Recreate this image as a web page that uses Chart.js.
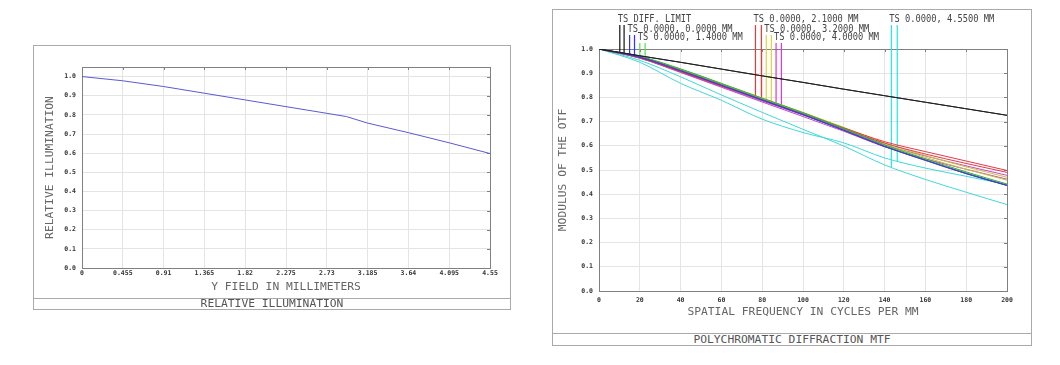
<!DOCTYPE html>
<html>
<head>
<meta charset="utf-8">
<script src="https://cdn.jsdelivr.net/npm/chart.js@4.4.1/dist/chart.umd.min.js"></script>
<style>
  body { margin: 0; background: #fff; width: 1060px; height: 365px; position: relative; overflow: hidden; font-family: 'DejaVu Sans Mono', monospace; }
  .frame { position: absolute; border: 1px solid #aaa; box-sizing: border-box; }
  .plot { position: absolute; left: 0; top: 0; right: 0; }
  .foot { position: absolute; left: 0; right: 0; bottom: 0; border-top: 1px solid #aaa; text-align: center; font-size: 11.3px; color: #555; }
</style>
</head>
<body>
<div class="frame" style="left:33px; top:45px; width:478px; height:265px;">
  <div class="plot" style="height:252px;"><canvas id="illum"></canvas></div>
  <div class="foot" style="height:10px; line-height:10px;">RELATIVE ILLUMINATION</div>
</div>
<div class="frame" style="left:552px; top:9px; width:480px; height:337px;">
  <div class="plot" style="height:322px;"><canvas id="mtf"></canvas></div>
  <div class="foot" style="height:11px; line-height:11px;">POLYCHROMATIC DIFFRACTION MTF</div>
</div>
<script>
// relative illumination vs field
const fieldMm = [0, 0.455, 0.91, 1.365, 1.82, 2.275, 2.73, 2.95, 3.185, 3.64, 4.095, 4.55];
const relIllum = [1.000, 0.978, 0.948, 0.913, 0.878, 0.843, 0.808, 0.791, 0.757, 0.707, 0.654, 0.598];
const fieldTicks = ['0', '0.455', '0.91', '1.365', '1.82', '2.275', '2.73', '3.185', '3.64', '4.095', '4.55'];

// polychromatic MTF, tangential / sagittal
const freq = [0, 20, 40, 60, 80, 100, 120, 140, 160, 180, 200];
const mtfDiff = [1.000, 0.972, 0.945, 0.917, 0.889, 0.862, 0.834, 0.807, 0.780, 0.753, 0.726];
const mtf00 = [1.000, 0.966, 0.910, 0.850, 0.789, 0.729, 0.664, 0.597, 0.540, 0.485, 0.436];
const mtf14T = [1.000, 0.970, 0.918, 0.858, 0.797, 0.737, 0.672, 0.604, 0.546, 0.492, 0.442];
const mtf14S = [1.000, 0.968, 0.914, 0.854, 0.793, 0.733, 0.668, 0.600, 0.542, 0.488, 0.438];
const mtf21T = [1.000, 0.963, 0.906, 0.847, 0.790, 0.733, 0.674, 0.617, 0.576, 0.537, 0.498];
const mtf21S = [1.000, 0.964, 0.908, 0.849, 0.789, 0.730, 0.670, 0.611, 0.566, 0.527, 0.490];
const mtf32T = [1.000, 0.969, 0.916, 0.857, 0.797, 0.738, 0.676, 0.612, 0.560, 0.513, 0.470];
const mtf32S = [1.000, 0.967, 0.912, 0.853, 0.793, 0.734, 0.672, 0.607, 0.552, 0.503, 0.458];
const mtf40T = [1.000, 0.963, 0.905, 0.845, 0.785, 0.727, 0.666, 0.604, 0.558, 0.517, 0.478];
const mtf40S = [1.000, 0.962, 0.903, 0.842, 0.781, 0.721, 0.660, 0.596, 0.546, 0.503, 0.462];
const mtf455T = [1.000, 0.953, 0.885, 0.810, 0.738, 0.668, 0.599, 0.521, 0.461, 0.408, 0.357];
const mtf455S = [1.000, 0.945, 0.858, 0.788, 0.710, 0.655, 0.612, 0.550, 0.508, 0.474, 0.440];

const seriesNames = ['TS DIFF. LIMIT', 'TS 0.0000, 0.0000 MM', 'TS 0.0000, 1.4000 MM', 'TS 0.0000, 2.1000 MM',
  'TS 0.0000, 3.2000 MM', 'TS 0.0000, 4.0000 MM', 'TS 0.0000, 4.5500 MM'];
const seriesT = [mtfDiff, mtf00, mtf14T, mtf21T, mtf32T, mtf40T, mtf455T];
const seriesS = [mtfDiff, mtf00, mtf14S, mtf21S, mtf32S, mtf40S, mtf455S];
const lineColors = ['#222222', '#3c3cd8', '#44aa33', '#e23a4a', '#c8c040', '#c844c8', '#40d8d8'];
const markColors = ['#111111', '#3030ff', '#55dd55', '#ff3030', '#d8d840', '#e030e0', '#20e8e8'];

// little T/S flags that tie each legend entry to its curves
const markerFreq = [[10.2, 12.3], [15.0, 17.4], [20.0, 22.6], [76.7, 79.6], [82.0, 84.5], [86.8, 89.4], [143.3, 146.2]];
const markerMtf = [[0.986, 0.983], [0.975, 0.970], [0.970, 0.961], [0.799, 0.790], [0.791, 0.780], [0.765, 0.753], [0.511, 0.537]];
const markerTop = [1.099, 1.058, 1.025, 1.099, 1.058, 1.025, 1.099];

Chart.defaults.font.family = "'DejaVu Sans Mono', monospace";
Chart.defaults.animation = false;

const tickFont = { size: 6.5, weight: 'bold' };
const titleFont = { size: 11.3 };

// plot box plus the short inward ticks on top and right edges
const boxPlugin = {
  id: 'box',
  beforeDatasetsDraw(chart) {
    const { ctx, chartArea: a, scales } = chart;
    ctx.save();
    ctx.strokeStyle = '#808080';
    ctx.lineWidth = 1;
    ctx.strokeRect(a.left + 0.5, a.top + 0.5, a.right - a.left, a.bottom - a.top);
    ctx.beginPath();
    scales.x.ticks.forEach((t, i) => {
      const px = Math.round(scales.x.getPixelForTick(i)) + 0.5;
      ctx.moveTo(px, a.top); ctx.lineTo(px, a.top + 3);
    });
    scales.y.ticks.forEach((t, i) => {
      const py = Math.round(scales.y.getPixelForTick(i)) + 0.5;
      ctx.moveTo(a.right, py); ctx.lineTo(a.right - 3, py);
    });
    ctx.stroke();
    ctx.restore();
  }
};

function axes(xOpts, yOpts, yWidth, xHeight, yTitle, xTitle, yPad, xPad, xTickPad) {
  return {
    x: Object.assign({
      type: 'linear',
      border: { display: false },
      grid: { color: '#e4e4e4', drawTicks: false },
      ticks: { font: tickFont, color: '#333', padding: xTickPad, maxRotation: 0, autoSkip: false },
      title: { display: true, text: xTitle, font: titleFont, color: '#666', padding: { top: 0, bottom: xPad } },
      afterFit: s => { s.height = xHeight; }
    }, xOpts),
    y: Object.assign({
      border: { display: false },
      grid: { color: '#e4e4e4', drawTicks: false },
      ticks: { font: tickFont, color: '#333', padding: 6, stepSize: 0.1, includeBounds: false,
        callback: v => v.toFixed(1) },
      title: { display: true, text: yTitle, font: titleFont, color: '#666', padding: { top: yPad, bottom: 0 } },
      afterFit: s => { s.width = yWidth; }
    }, yOpts)
  };
}

function pts(xs, ys) {
  return xs.map((x, i) => ({ x: x, y: ys[i] }));
}

// left: relative illumination
const illumScales = axes({ min: 0, max: 4.55 }, { min: 0, max: 1.05 }, 48, 30,
  'RELATIVE ILLUMINATION', 'Y FIELD IN MILLIMETERS', 9, 4, 1.5);
illumScales.x.ticks.stepSize = 0.455;
illumScales.x.ticks.callback = (v, i) => fieldTicks[i];

new Chart(document.getElementById('illum'), {
  type: 'line',
  data: {
    datasets: [{
      data: pts(fieldMm, relIllum),
      borderColor: '#5a5ad2',
      borderWidth: 1,
      pointRadius: 0,
      tension: 0
    }]
  },
  options: {
    responsive: true,
    maintainAspectRatio: false,
    layout: { padding: { top: 21, right: 20, left: 0, bottom: 0 } },
    plugins: { legend: { display: false }, tooltip: { enabled: false } },
    scales: illumScales
  },
  plugins: [boxPlugin]
});

// right: MTF
const mtfScales = axes({ min: 0, max: 200 }, { min: 0, max: 1.0 }, 46, 41,
  'MODULUS OF THE OTF', 'SPATIAL FREQUENCY IN CYCLES PER MM', 3.2, 13, 5);
mtfScales.x.ticks.stepSize = 20;

const mtfSets = [];
seriesNames.forEach((name, i) => {
  [seriesT[i], seriesS[i]].forEach(vals => {
    mtfSets.push({
      data: pts(freq, vals),
      borderColor: lineColors[i],
      borderWidth: 1,
      pointRadius: 0,
      cubicInterpolationMode: 'monotone'
    });
  });
});
seriesNames.forEach((name, i) => {
  markerFreq[i].forEach((f, k) => {
    mtfSets.push({
      data: [{ x: f, y: markerMtf[i][k] }, { x: f, y: markerTop[i] }],
      borderColor: markColors[i],
      borderWidth: 1.2,
      pointRadius: 0,
      clip: false
    });
  });
});

// legend text sits just above each pair of flags
const flagLabels = {
  id: 'flagLabels',
  afterDraw(chart) {
    const { ctx, scales } = chart;
    ctx.save();
    ctx.fillStyle = '#444';
    ctx.font = "10.5px 'DejaVu Sans Mono', monospace";
    ctx.textBaseline = 'alphabetic';
    seriesNames.forEach((name, i) => {
      const px = scales.x.getPixelForValue(markerFreq[i][0]) - 2;
      const py = scales.y.getPixelForValue(markerTop[i]) - 3;
      ctx.save();
      ctx.translate(px, py);
      ctx.scale(0.83, 1);
      ctx.fillText(name, 0, 0);
      ctx.restore();
    });
    ctx.restore();
  }
};

new Chart(document.getElementById('mtf'), {
  type: 'line',
  data: { datasets: mtfSets },
  options: {
    responsive: true,
    maintainAspectRatio: false,
    layout: { padding: { top: 39, right: 24, left: 0, bottom: 0 } },
    plugins: { legend: { display: false }, tooltip: { enabled: false } },
    scales: mtfScales
  },
  plugins: [boxPlugin, flagLabels]
});
</script>
</body>
</html>
